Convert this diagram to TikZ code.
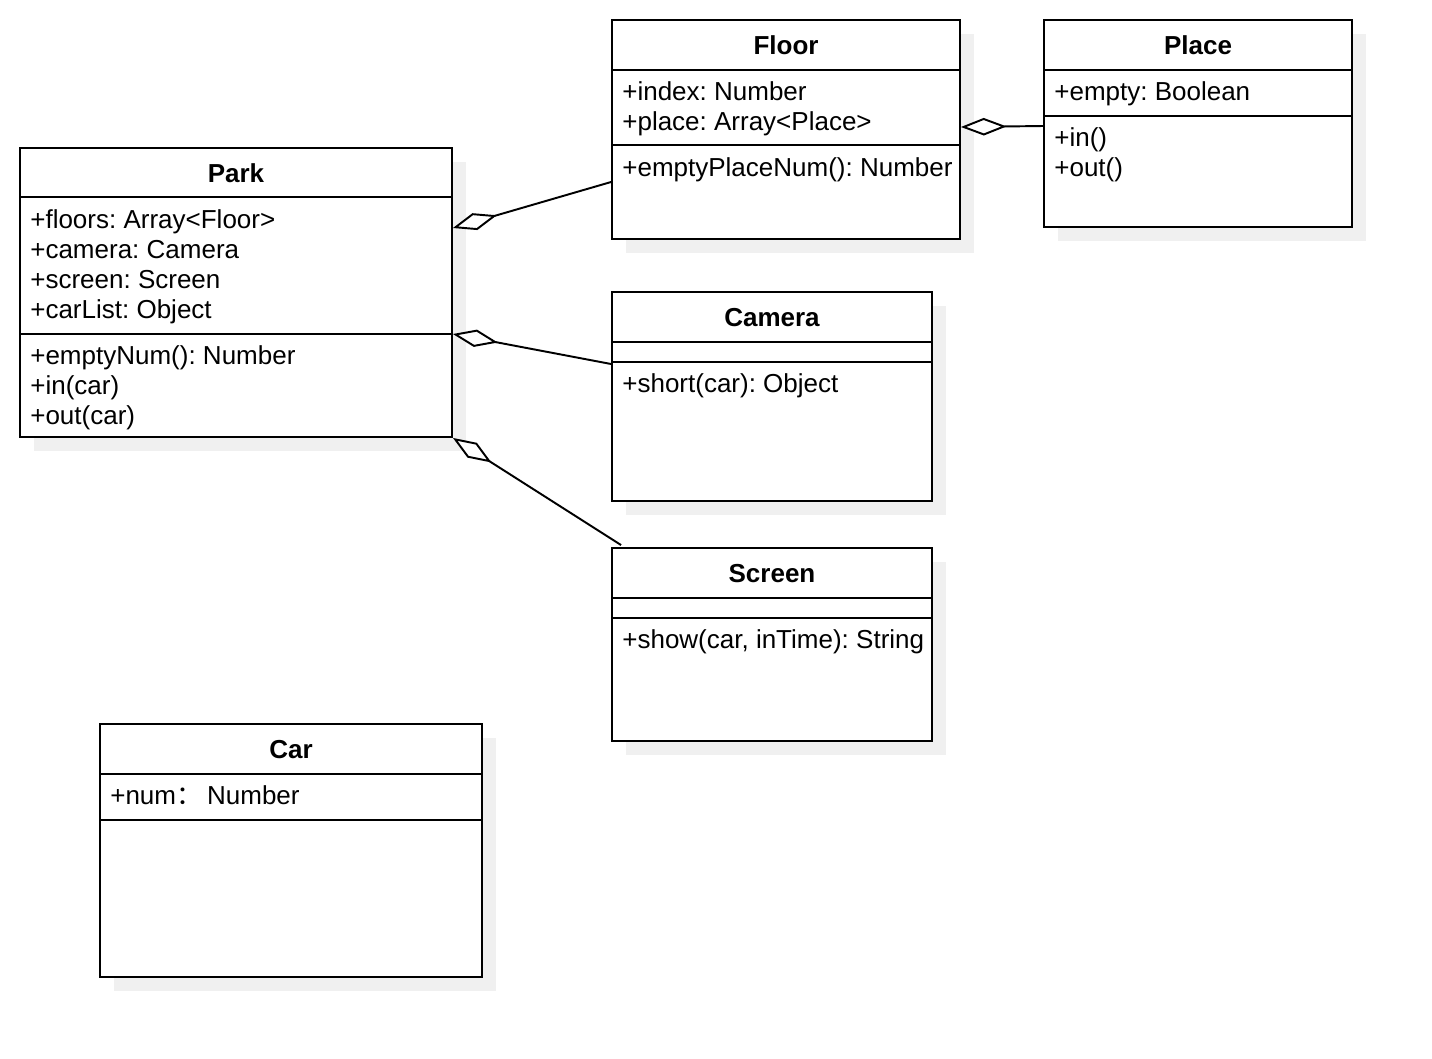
\documentclass[tikz,border=0pt]{standalone}
\usepackage{fontspec}
\setmainfont{Liberation Sans}
\newfontfamily\cjkfont{Noto Sans CJK SC}
\usepackage{tikz}
\usetikzlibrary{arrows.meta, positioning, calc, shadows}
\newcommand{\umlfont}{\fontsize{14.8}{17}\selectfont\frenchspacing}

\begin{document}
\begin{tikzpicture}[
            x=0.02cm, y=-0.02cm,
            % class boxes with a flat grey shadow
            classbox/.style={
                rectangle,
                draw=black,
                line width=1.1pt,
                fill=white,
                inner sep=0pt,
                drop shadow={shadow xshift=0.28cm, shadow yshift=-0.28cm,
                             fill=black!6, opacity=1}
            },
            title/.style={font=\umlfont\bfseries},
            % anchored on the baseline of the last line
            members/.style={
                anchor=base west,
                align=left,
                inner sep=0pt,
                font=\umlfont
            },
            sep/.style={line width=1.1pt},
            aggr/.style={
                line width=1.1pt,
                -{Diamond[fill=white, length=26pt, width=10pt]}
            }
        ]
        \useasboundingbox (0,0) rectangle (1432,1058);

        % --- Classes ---
        \node [classbox, minimum width=8.64cm, minimum height=5.78cm] (park) at (236,292.5) {};
        \node [classbox, minimum width=6.96cm, minimum height=4.38cm] (floor) at (786,129.5) {};
        \node [classbox, minimum width=6.16cm, minimum height=4.14cm] (place) at (1198,123.5) {};
        \node [classbox, minimum width=6.4cm, minimum height=4.18cm] (camera) at (772,396.5) {};
        \node [classbox, minimum width=6.4cm, minimum height=3.86cm] (screen) at (772,644.5) {};
        \node [classbox, minimum width=7.64cm, minimum height=5.06cm] (car) at (291,850.5) {};

        % --- Compartments ---
        \draw [sep] (park.west |- 0,197) -- (park.east |- 0,197);
        \draw [sep] (park.west |- 0,334) -- (park.east |- 0,334);
        \draw [sep] (floor.west |- 0,70) -- (floor.east |- 0,70);
        \draw [sep] (floor.west |- 0,145) -- (floor.east |- 0,145);
        \draw [sep] (place.west |- 0,70) -- (place.east |- 0,70);
        \draw [sep] (place.west |- 0,116) -- (place.east |- 0,116);
        \draw [sep] (camera.west |- 0,342) -- (camera.east |- 0,342);
        \draw [sep] (camera.west |- 0,362) -- (camera.east |- 0,362);
        \draw [sep] (screen.west |- 0,598) -- (screen.east |- 0,598);
        \draw [sep] (screen.west |- 0,618) -- (screen.east |- 0,618);
        \draw [sep] (car.west |- 0,774) -- (car.east |- 0,774);
        \draw [sep] (car.west |- 0,820) -- (car.east |- 0,820);

        % --- Names ---
        \node [title] (parkname) at (236,173.5) {Park};
        \node [title] (floorname) at (786,45.5) {Floor};
        \node [title] (placename) at (1198,45.5) {Place};
        \node [title] (cameraname) at (772,318) {Camera};
        \node [title] (screenname) at (772,574) {Screen};
        \node [title] (carname) at (291,750) {Car};

        % --- Members ---
        \node [members] (parkattr) at (30,318) {+floors: Array<Floor>\\+camera: Camera\\+screen: Screen\\+carList: Object};
        \node [members] (parkops) at (30,424) {+emptyNum(): Number\\+in(car)\\+out(car)};
        \node [members] (floorattr) at (622,130) {+index: Number\\+place: Array<Place>};
        \node [members] (floorops) at (622,176) {+emptyPlaceNum(): Number};
        \node [members] (placeattr) at (1054,100) {+empty: Boolean};
        \node [members] (placeops) at (1054,176) {+in()\\+out()};
        \node [members] (cameraops) at (622,392) {+short(car): Object};
        \node [members] (screenops) at (622,648) {+show(car, inTime): String};
        \node [members] (carattr) at (110,804) {+num{\cjkfont ：}\hspace{0.1cm}Number};

        % --- Aggregations ---
        \draw [aggr] (floor.west |- 0,182) -- (park.east |- 0,228);
        \draw [aggr] (camera.west |- 0,364) -- (park.east |- 0,334);
        \draw [aggr] ($(screen.north west)+(10,-2)$) -- (park.south east);
        \draw [aggr] (place.west |- 0,126) -- (floor.east |- 0,127);

\end{tikzpicture}
\end{document}
